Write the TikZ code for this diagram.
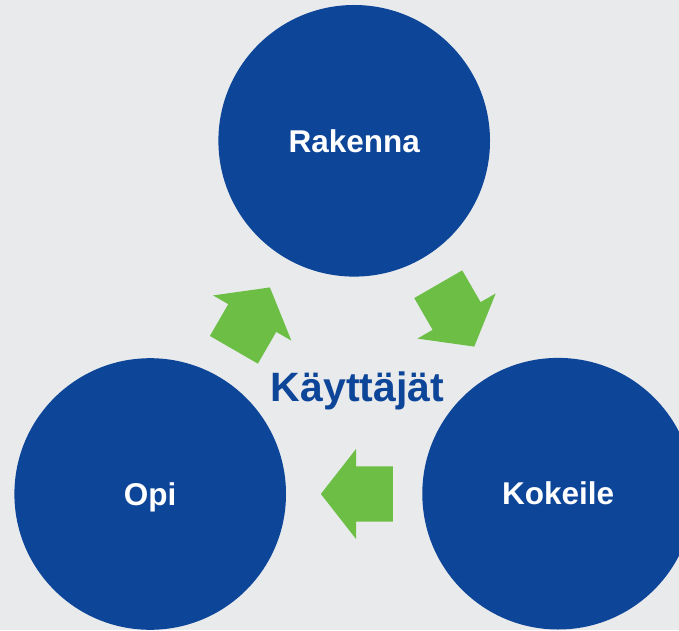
\documentclass[tikz,border=0pt]{standalone}
\usepackage{fontspec}
\setmainfont{Liberation Sans}
\usetikzlibrary{shapes.arrows,positioning,calc}
\definecolor{cycleblue}{HTML}{0D4598}
\definecolor{cyclegreen}{HTML}{6CBE45}
\definecolor{paper}{HTML}{E8EAEC}

\begin{document}
\begin{tikzpicture}[x=1pt, y=1pt,
    phase/.style={circle, fill=cycleblue, text=white, minimum size=271.6pt, inner sep=0pt,
        font=\fontsize{31.5}{36}\selectfont\bfseries, text height=22.5pt, text depth=0pt},
    turn/.style={single arrow, fill=cyclegreen, minimum height=72pt, minimum width=90pt,
        single arrow head extend=17.5pt, single arrow head indent=0pt, single arrow tip angle=104,
        inner xsep=0pt, inner ysep=27.5pt, anchor=tail}]
    % Canvas
    \clip (0,0) rectangle (679,630);
    \fill [paper] (0,0) rectangle (679,630);

    % Phases of the cycle
    \node [phase] (build) at (354.2, 489.2) {Rakenna};
    \node [phase] (learn) at (150.2, 136) {Opi};
    \node [phase] (test) at (558.1, 136.3) {Kokeile};

    % Users in the middle
    \coordinate (hub) at (355, 254);
    \node [anchor=base, text=cycleblue, font=\fontsize{41}{48}\selectfont\bfseries] (users) at (357.5, 228.3) {Käyttäjät};

    % Arrows round the hub, placed by their tails
    \foreach \name/\a/\r in {upleft/151/60, upright/31/-60, down/-89/180} {
        \node [turn, rotate=\r] (\name) at ($(hub)+(\a:118pt)+(\r+180:36pt)$) {};
    }
\end{tikzpicture}
\end{document}
